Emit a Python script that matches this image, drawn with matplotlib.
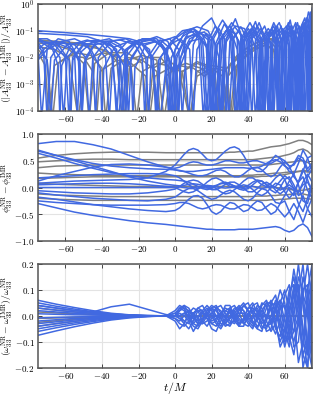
import numpy as np
import matplotlib
matplotlib.use("Agg")
import matplotlib.pyplot as plt
from matplotlib.ticker import FuncFormatter, FixedLocator, NullLocator

plt.rcParams['font.family'] = 'serif'
plt.rcParams['font.serif'] = ['cmr10']
plt.rcParams['mathtext.fontset'] = 'cm'
plt.rcParams['axes.formatter.use_mathtext'] = True

BLUE = '#4169e1'
GRAY = '#808080'
DIP = 5e-5

# ---------------- amplitude panel (t, relative error) ----------------
amp_blue = [
    [(-75,0.1),(-60,0.085),(-45,0.07),(-35,0.06),(-25,0.05),(-20,0.04),(-14,0.02),(-8,DIP),(-4,0.02),(0,0.05),(6,0.1),(12,0.14),(18,0.1),(22,0.03),(25,DIP),(28,0.05),(33,0.15),(38,0.12),(42,0.03),(44,DIP),(47,0.05),(51,0.12),(55,0.05),(57,DIP),(60,0.06),(63,0.15),(66,0.05),(67.5,DIP),(70,0.1),(72,0.3),(74,0.1),(75,DIP)],
    [(-75,0.08),(-60,0.07),(-48,0.06),(-40,0.04),(-35,0.02),(-31,DIP),(-27,0.02),(-20,0.045),(-12,0.05),(-6,0.02),(-3,DIP),(0,0.02),(5,0.08),(10,0.12),(15,0.07),(18,0.02),(20,DIP),(23,0.03),(28,0.1),(33,0.08),(36,0.02),(38,DIP),(41,0.05),(45,0.15),(49,0.05),(51,DIP),(54,0.1),(57,0.2),(60,0.06),(61.5,DIP),(64,0.1),(66,0.2),(68,0.05),(69,DIP),(71,0.1),(73,0.5),(75,0.2)],
    [(-75,0.015),(-73,DIP),(-70,0.02),(-64,0.05),(-58,0.04),(-53,0.01),(-51,DIP),(-49,0.01),(-43,0.04),(-36,0.05),(-30,0.03),(-27,0.01),(-25.5,DIP),(-24,0.01),(-18,0.04),(-10,0.06),(-4,0.04),(0,0.01),(1.5,DIP),(3,0.01),(8,0.05),(14,0.08),(19,0.04),(22,DIP),(25,0.05),(31,0.2),(36,0.07),(39,DIP),(42,0.05),(47,0.12),(51,0.03),(52.5,DIP),(55,0.05),(59,0.12),(62,0.03),(63,DIP),(65,0.05),(68,0.15),(70,0.03),(71,DIP),(73,0.2),(75,0.3)],
    [(-75,0.05),(-68,0.03),(-63,0.01),(-61,DIP),(-59,0.01),(-52,0.035),(-44,0.03),(-38,0.01),(-36,DIP),(-34,0.01),(-26,0.04),(-18,0.035),(-12,0.01),(-10,DIP),(-8,0.01),(-2,0.04),(4,0.1),(10,0.12),(14,0.05),(17,DIP),(20,0.05),(26,0.25),(30,0.1),(33,DIP),(36,0.05),(41,0.2),(45,0.06),(47,DIP),(50,0.06),(54,0.15),(57,0.03),(58,DIP),(60,0.05),(63,0.25),(65,0.05),(66,DIP),(68,0.1),(71,0.3),(73,0.05),(74,DIP),(75,0.2)],
    [(-75,0.045),(-67,0.02),(-64,0.005),(-63,DIP),(-62,0.005),(-57,0.03),(-48,0.045),(-40,0.03),(-34,0.01),(-32,DIP),(-30,0.01),(-22,0.04),(-14,0.05),(-8,0.03),(-4,0.01),(-2,DIP),(0,0.01),(6,0.06),(12,0.07),(17,0.03),(19.5,DIP),(22,0.03),(27,0.18),(31,0.06),(34,DIP),(37,0.04),(42,0.12),(46,0.04),(48,DIP),(50,0.03),(53,0.12),(56,0.03),(57.5,DIP),(59,0.05),(62,0.2),(64,0.05),(65,DIP),(67,0.05),(70,0.2),(72,0.05),(72.5,DIP),(74,0.3),(75,0.5)],
    [(-75,0.035),(-72,0.02),(-70,DIP),(-68,0.01),(-62,0.04),(-55,0.05),(-48,0.03),(-45,0.01),(-43.5,DIP),(-42,0.01),(-35,0.04),(-27,0.05),(-20,0.03),(-16,0.01),(-14.5,DIP),(-13,0.01),(-7,0.04),(0,0.06),(5,0.03),(7.5,DIP),(10,0.03),(15,0.15),(20,0.3),(24,0.08),(26,DIP),(28,0.05),(33,0.28),(37,0.05),(38.5,DIP),(40,0.05),(44,0.22),(48,0.03),(49,DIP),(51,0.05),(54,0.1),(56,0.02),(57,DIP),(59,0.1),(61,0.15),(63,0.02),(63.5,DIP),(66,0.15),(68,0.06),(69,DIP),(71,0.15),(73,0.08),(74,DIP),(75,0.6)],
    [(-75,0.02),(-71,0.035),(-66,0.03),(-60,0.01),(-58,DIP),(-56,0.01),(-49,0.04),(-42,0.045),(-35,0.03),(-30,0.01),(-28.5,DIP),(-27,0.01),(-21,0.035),(-13,0.045),(-7,0.03),(-3,0.008),(-1,DIP),(1,0.01),(7,0.08),(11,0.1),(15,0.05),(18,DIP),(21,0.05),(24,0.12),(27,0.05),(29.5,DIP),(32,0.05),(36,0.14),(40,0.04),(42,DIP),(44,0.04),(49,0.15),(52,0.04),(53.5,DIP),(55,0.04),(58,0.15),(60,0.03),(61,DIP),(63,0.06),(65,0.1),(67,0.02),(67.5,DIP),(69,0.08),(72,0.1),(73,0.02),(73.5,DIP),(75,0.7)],
    [(-75,0.008),(-70,0.02),(-63,0.035),(-55,0.03),(-49,0.01),(-47,DIP),(-45,0.01),(-38,0.04),(-30,0.045),(-22,0.03),(-18,0.01),(-16.5,DIP),(-15,0.01),(-9,0.04),(-3,0.05),(2,0.02),(4,DIP),(6,0.02),(11,0.07),(16,0.09),(20,0.04),(23,DIP),(26,0.05),(31,0.12),(35,0.04),(37,DIP),(39,0.04),(43,0.1),(47,0.03),(48.5,DIP),(50,0.04),(54,0.2),(58,0.05),(59,DIP),(61,0.05),(64,0.12),(66,0.03),(67,DIP),(69,0.05),(71,0.12),(72,0.03),(72.8,DIP),(74,0.2),(75,0.4)],
    [(-75,0.03),(-70,0.008),(-68,DIP),(-66,0.008),(-59,0.03),(-52,0.035),(-46,0.02),(-41,0.004),(-40,DIP),(-39,0.004),(-33,0.025),(-25,0.04),(-18,0.03),(-12,0.008),(-10.5,DIP),(-9,0.008),(-3,0.03),(3,0.05),(8,0.02),(10,DIP),(12,0.02),(17,0.08),(21,0.05),(24,0.01),(24.5,DIP),(27,0.03),(31,0.08),(34,0.02),(35.5,DIP),(37,0.03),(41,0.09),(44,0.02),(45.5,DIP),(47,0.03),(50,0.1),(53,0.02),(54,DIP),(56,0.04),(59,0.1),(61,0.02),(62,DIP),(64,0.04),(67,0.2),(69,0.05),(70,DIP),(72,0.1),(74,0.5),(75,0.3)],
    [(-75,0.04),(-65,0.035),(-56,0.02),(-52,0.006),(-51,DIP),(-50,0.006),(-44,0.03),(-36,0.04),(-28,0.02),(-24,0.004),(-23,DIP),(-22,0.004),(-16,0.03),(-8,0.045),(-2,0.02),(1,0.005),(2,DIP),(3,0.005),(8,0.04),(14,0.05),(18,0.02),(20.5,DIP),(23,0.03),(28,0.1),(32,0.04),(34,DIP),(36,0.04),(40,0.12),(44,0.05),(46,DIP),(48,0.05),(52,0.1),(55,0.03),(56,DIP),(57,0.03),(60,0.1),(62,0.03),(63,DIP),(64,0.04),(66,0.08),(68,0.02),(68.5,DIP),(70,0.06),(72,0.1),(73.5,0.03),(74,DIP),(75,0.2)],
    [(-75,0.01),(-72,0.02),(-66,0.04),(-60,0.035),(-55,0.015),(-53.5,DIP),(-52,0.015),(-45,0.04),(-37,0.04),(-32,0.02),(-29,DIP),(-26,0.02),(-18,0.05),(-10,0.05),(-5,0.02),(-3.5,DIP),(-2,0.01),(4,0.06),(9,0.1),(13,0.05),(15.5,DIP),(18,0.04),(22,0.15),(26,0.05),(28,DIP),(30,0.04),(35,0.1),(38,0.03),(40,DIP),(42,0.05),(46,0.2),(50,0.04),(51.5,DIP),(53,0.04),(56,0.15),(58,0.04),(59,DIP),(61,0.06),(64,0.15),(66,0.02),(66.5,DIP),(68,0.08),(70,0.15),(72,0.02),(72.5,DIP),(74,0.3),(75,0.1)],
    [(-75,0.05),(-70,0.05),(-64,0.03),(-58,0.008),(-57,DIP),(-56,0.008),(-50,0.03),(-41,0.04),(-34,0.025),(-28,0.005),(-27,DIP),(-26,0.005),(-19,0.03),(-11,0.04),(-5,0.02),(-1,0.003),(0,DIP),(1,0.003),(6,0.05),(12,0.09),(18,0.06),(21.5,DIP),(25,0.05),(30,0.15),(34,0.05),(36,DIP),(38,0.06),(43,0.15),(47,0.04),(49,DIP),(51,0.05),(55,0.12),(58,0.02),(59.5,DIP),(61,0.04),(64,0.1),(66,0.02),(66.8,DIP),(68,0.06),(71,0.2),(73,0.03),(73.7,DIP),(75,0.1)],
]

amp_gray = [
    [(-75,0.04),(-62,0.035),(-50,0.028),(-40,0.02),(-32,0.01),(-29,DIP),(-26,0.008),(-18,0.012),(-10,0.008),(-6,DIP),(-2,0.004),(6,0.006),(14,0.004),(20,0.002),(25,DIP),(30,0.005),(38,0.02),(46,0.04),(52,0.05),(56,0.03)],
    [(-75,0.035),(-66,0.03),(-58,0.02),(-50,0.006),(-47,DIP),(-44,0.006),(-36,0.015),(-26,0.015),(-18,0.006),(-15,DIP),(-12,0.004),(-4,0.008),(2,0.004),(8,DIP),(12,0.003),(20,0.005),(28,0.004),(31,DIP),(34,0.005),(42,0.02),(50,0.03),(54,0.02),(57,DIP)],
    [(-75,0.025),(-66,0.02),(-58,0.01),(-53,DIP),(-49,0.008),(-40,0.015),(-32,0.012),(-24,0.004),(-21,DIP),(-18,0.003),(-10,0.006),(-4,0.005),(0,DIP),(4,0.003),(12,0.006),(20,0.004),(25,DIP),(30,0.005),(38,0.015),(46,0.03),(52,0.04),(56,0.02),(59,DIP)],
    [(-75,0.02),(-70,0.008),(-67,DIP),(-64,0.006),(-55,0.015),(-46,0.012),(-40,0.004),(-38,DIP),(-35,0.004),(-26,0.01),(-18,0.008),(-10,0.003),(-8,DIP),(-5,0.002),(2,0.005),(10,0.004),(16,0.002),(22,0.004),(28,0.003),(30,DIP),(33,0.004),(40,0.015),(48,0.04),(54,0.05),(58,0.02)],
    [(-75,0.015),(-71,0.005),(-69,DIP),(-66,0.005),(-58,0.012),(-50,0.01),(-45,0.003),(-43,DIP),(-41,0.003),(-32,0.008),(-24,0.006),(-16,0.002),(-14,DIP),(-11,0.002),(-3,0.004),(4,0.003),(8,DIP),(12,0.002),(20,0.004),(26,0.002),(27,DIP),(29,0.002),(36,0.008),(44,0.02),(50,0.03),(55,0.015),(58,DIP)],
    [(-75,0.045),(-64,0.04),(-54,0.035),(-44,0.025),(-36,0.015),(-30,0.005),(-27.5,DIP),(-25,0.004),(-16,0.01),(-8,0.01),(-1,0.003),(1,DIP),(4,0.003),(12,0.007),(18,0.005),(22,0.002),(24,DIP),(27,0.003),(34,0.012),(42,0.03),(48,0.045),(53,0.05),(57,0.04)],
]

# ---------------- phase and frequency panels (common time samples) ----------------
t_grid = [-75, -65, -55, -45, -35, -25, -15, -5,
          0, 2.5, 5, 7.5, 10, 12.5, 15, 17.5, 20, 22.5, 25, 27.5, 30, 32.5, 35, 37.5,
          40, 42.5, 45, 47.5, 50, 52.5, 55, 57.5, 60, 62.5, 65, 67.5, 70, 72.5, 75]

phase_blue = [
    [0.82,0.86,0.86,0.8,0.72,0.6,0.48,0.38, 0.33,0.31,0.3,0.3,0.3,0.31,0.32,0.33,0.34,0.35,0.36,0.37,0.37,0.37,0.37,0.37, 0.36,0.36,0.37,0.4,0.45,0.5,0.52,0.48,0.4,0.35,0.45,0.6,0.55,0.35,0.45],
    [0.08,0.1,0.12,0.13,0.14,0.15,0.18,0.3, 0.42,0.52,0.62,0.7,0.73,0.7,0.62,0.53,0.5,0.52,0.6,0.68,0.74,0.76,0.72,0.6, 0.45,0.35,0.3,0.3,0.38,0.5,0.6,0.55,0.42,0.3,0.25,0.45,0.7,0.55,0.3],
    [0.68,0.6,0.52,0.45,0.4,0.37,0.35,0.34, 0.33,0.32,0.3,0.27,0.24,0.22,0.22,0.24,0.28,0.32,0.33,0.3,0.24,0.2,0.2,0.25, 0.32,0.37,0.38,0.33,0.25,0.2,0.25,0.38,0.48,0.4,0.2,0.1,0.3,0.55,0.6],
    [0.64,0.55,0.45,0.36,0.28,0.22,0.18,0.15, 0.14,0.13,0.12,0.1,0.06,0.02,-0.02,-0.04,-0.02,0.03,0.08,0.1,0.07,0.02,-0.03,-0.05, -0.02,0.05,0.12,0.12,0.05,-0.05,-0.1,0.0,0.15,0.2,0.05,-0.15,-0.1,0.2,0.35],
    [0.12,0.22,0.3,0.38,0.43,0.44,0.42,0.38, 0.36,0.38,0.42,0.46,0.48,0.47,0.44,0.42,0.42,0.44,0.47,0.5,0.5,0.48,0.46,0.46, 0.48,0.5,0.5,0.47,0.44,0.45,0.5,0.55,0.5,0.4,0.42,0.55,0.5,0.3,0.4],
    [0.05,0.06,0.07,0.08,0.08,0.07,0.05,0.02, 0.0,-0.04,-0.08,-0.1,-0.08,-0.03,0.02,0.04,0.03,-0.02,-0.08,-0.12,-0.1,-0.04,0.02,0.05, 0.03,-0.04,-0.12,-0.15,-0.1,0.0,0.08,0.05,-0.08,-0.2,-0.1,0.1,0.2,-0.05,-0.2],
    [0.0,0.0,0.0,0.0,0.0,0.0,0.0,0.0, 0.0,0.01,0.0,-0.01,0.0,0.01,0.0,-0.01,0.0,0.01,0.0,-0.01,0.0,0.01,0.0,-0.02, 0.0,0.02,0.0,-0.02,0.0,0.03,0.0,-0.05,0.0,0.05,-0.02,-0.08,0.05,0.1,-0.05],
    [-0.1,-0.14,-0.17,-0.2,-0.22,-0.24,-0.25,-0.22, -0.18,-0.12,-0.06,-0.02,-0.02,-0.06,-0.12,-0.18,-0.22,-0.2,-0.14,-0.08,-0.05,-0.08,-0.15,-0.22, -0.25,-0.2,-0.1,-0.02,-0.05,-0.15,-0.28,-0.3,-0.15,0.0,-0.05,-0.3,-0.45,-0.2,0.1],
    [-0.18,-0.22,-0.27,-0.32,-0.36,-0.4,-0.43,-0.45, -0.43,-0.38,-0.3,-0.22,-0.16,-0.15,-0.2,-0.32,-0.45,-0.5,-0.45,-0.35,-0.28,-0.3,-0.38,-0.45, -0.42,-0.32,-0.25,-0.28,-0.4,-0.5,-0.45,-0.3,-0.25,-0.45,-0.6,-0.35,-0.15,-0.4,-0.55],
    [-0.3,-0.38,-0.46,-0.52,-0.57,-0.62,-0.66,-0.69, -0.71,-0.72,-0.73,-0.74,-0.75,-0.76,-0.77,-0.78,-0.78,-0.79,-0.79,-0.79,-0.79,-0.79,-0.78,-0.78, -0.78,-0.78,-0.77,-0.76,-0.75,-0.74,-0.73,-0.75,-0.8,-0.83,-0.8,-0.72,-0.68,-0.75,-0.92],
    [-0.25,-0.28,-0.3,-0.32,-0.33,-0.33,-0.33,-0.32, -0.3,-0.28,-0.28,-0.3,-0.34,-0.38,-0.4,-0.38,-0.34,-0.32,-0.33,-0.37,-0.4,-0.4,-0.36,-0.32, -0.33,-0.38,-0.43,-0.42,-0.36,-0.3,-0.35,-0.45,-0.55,-0.45,-0.3,-0.45,-0.65,-0.4,-0.2],
    [0.18,0.2,0.22,0.24,0.25,0.26,0.26,0.25, 0.22,0.18,0.12,0.05,0.0,-0.02,0.02,0.1,0.16,0.18,0.14,0.08,0.02,0.0,0.04,0.12, 0.18,0.18,0.12,0.05,0.02,0.08,0.18,0.25,0.15,-0.05,-0.15,0.1,0.35,0.15,-0.1],
    [-0.06,-0.08,-0.1,-0.11,-0.12,-0.12,-0.1,-0.06, -0.03,0.02,0.08,0.12,0.14,0.12,0.06,0.0,-0.04,-0.04,0.0,0.06,0.1,0.1,0.05,-0.02, -0.08,-0.08,-0.02,0.06,0.1,0.05,-0.05,-0.12,-0.05,0.12,0.25,0.05,-0.25,-0.3,0.05],
    [0.7,0.6,0.5,0.4,0.3,0.2,0.12,0.06, 0.04,0.03,0.04,0.06,0.07,0.06,0.04,0.02,0.02,0.04,0.07,0.08,0.06,0.03,0.0,0.0, 0.04,0.1,0.14,0.12,0.06,0.0,0.02,0.12,0.22,0.15,-0.02,-0.1,0.1,0.25,0.1],
]

phase_gray = [
    [0.55,0.6,0.63,0.65,0.66,0.66,0.66,0.65, 0.65,0.65,0.65,0.65,0.65,0.65,0.65,0.65,0.65,0.65,0.65,0.65,0.66,0.66,0.67,0.67, 0.68,0.68,0.7,0.72,0.74,0.76,0.77,0.78,0.8,0.82,0.85,0.88,0.88,0.85,0.8],
    [0.48,0.5,0.52,0.53,0.53,0.52,0.52,0.52, 0.52,0.52,0.52,0.52,0.52,0.52,0.52,0.52,0.52,0.52,0.52,0.52,0.52,0.52,0.52,0.52, 0.52,0.52,0.53,0.54,0.55,0.56,0.57,0.58,0.6,0.62,0.65,0.7,0.72,0.68,0.6],
    [0.37,0.4,0.41,0.42,0.42,0.42,0.42,0.42, 0.42,0.42,0.42,0.42,0.42,0.42,0.42,0.42,0.42,0.42,0.42,0.42,0.42,0.42,0.42,0.42, 0.42,0.42,0.42,0.42,0.42,0.43,0.44,0.45,0.46,0.47,0.48,0.5,0.5,0.47,0.42],
    [0.27,0.25,0.24,0.23,0.22,0.22,0.22,0.22, 0.22,0.22,0.22,0.22,0.22,0.22,0.22,0.22,0.22,0.22,0.22,0.22,0.22,0.22,0.22,0.22, 0.23,0.23,0.24,0.24,0.25,0.26,0.27,0.27,0.28,0.29,0.3,0.3,0.3,0.29,0.28],
    [0.17,0.18,0.19,0.2,0.2,0.2,0.2,0.2, 0.2,0.2,0.2,0.2,0.2,0.2,0.2,0.2,0.2,0.2,0.2,0.2,0.2,0.2,0.2,0.2, 0.2,0.2,0.2,0.21,0.21,0.22,0.22,0.23,0.24,0.26,0.28,0.3,0.32,0.31,0.3],
    [0.08,0.06,0.05,0.04,0.03,0.02,0.02,0.02, 0.02,0.02,0.02,0.02,0.02,0.02,0.02,0.02,0.02,0.02,0.02,0.02,0.02,0.02,0.02,0.02, 0.02,0.02,0.01,0.01,0.01,0.0,0.0,-0.01,-0.02,-0.03,-0.05,-0.05,-0.05,-0.04,-0.03],
    [-0.12,-0.14,-0.15,-0.16,-0.17,-0.17,-0.17,-0.17, -0.17,-0.17,-0.17,-0.17,-0.17,-0.17,-0.17,-0.17,-0.17,-0.17,-0.17,-0.17,-0.17,-0.17,-0.17,-0.17, -0.17,-0.17,-0.16,-0.16,-0.16,-0.15,-0.15,-0.14,-0.14,-0.13,-0.12,-0.12,-0.12,-0.14,-0.15],
    [-0.2,-0.22,-0.23,-0.24,-0.24,-0.24,-0.24,-0.24, -0.24,-0.24,-0.24,-0.24,-0.24,-0.24,-0.24,-0.24,-0.24,-0.24,-0.24,-0.24,-0.24,-0.24,-0.24,-0.24, -0.24,-0.24,-0.24,-0.24,-0.24,-0.23,-0.23,-0.22,-0.22,-0.21,-0.2,-0.2,-0.2,-0.21,-0.22],
]

freq_blue = [
    [0.06,0.045,0.032,0.02,0.01,0.004,0.001,0.0, 0.0,-0.01,-0.02,-0.01,0.01,0.02,0.01,-0.01,-0.02,-0.01,0.01,0.02,0.01,-0.01,-0.03,-0.02, 0.01,0.03,0.02,-0.01,-0.04,-0.03,0.02,0.06,0.03,-0.05,-0.1,-0.02,0.1,0.12,-0.05],
    [0.04,0.03,0.02,0.015,0.035,0.045,0.025,0.005, 0.0,0.02,0.04,0.03,0.0,-0.03,-0.02,0.01,0.03,0.02,-0.01,-0.03,-0.01,0.02,0.04,0.02, -0.02,-0.04,-0.01,0.04,0.06,0.02,-0.05,-0.08,0.0,0.1,0.12,0.0,-0.15,-0.1,0.15],
    [0.05,0.037,0.026,0.016,0.008,0.003,0.001,0.0, -0.01,-0.03,-0.04,-0.02,0.01,0.03,0.02,-0.01,-0.03,-0.02,0.01,0.03,0.02,-0.02,-0.04,-0.01, 0.03,0.05,0.01,-0.04,-0.05,0.0,0.06,0.04,-0.06,-0.12,0.0,0.15,0.1,-0.12,-0.2],
    [0.04,0.03,0.021,0.013,0.007,0.003,0.001,0.0, 0.01,0.03,0.02,-0.01,-0.03,-0.01,0.02,0.04,0.02,-0.02,-0.04,-0.01,0.03,0.04,0.01,-0.03, -0.04,0.0,0.04,0.03,-0.02,-0.06,-0.03,0.05,0.1,0.02,-0.12,-0.1,0.08,0.2,0.05],
    [0.03,0.022,0.015,0.01,0.005,0.002,0.0,0.0, 0.0,0.0,0.01,0.0,-0.01,0.0,0.01,0.0,-0.01,0.0,0.01,0.0,-0.01,0.0,0.01,0.01, -0.01,-0.01,0.01,0.02,0.0,-0.02,-0.01,0.03,0.04,-0.02,-0.06,0.0,0.08,0.03,-0.1],
    [0.02,0.015,0.01,0.006,0.003,0.001,0.0,0.0, 0.02,0.04,0.03,-0.01,-0.04,-0.05,-0.02,0.02,0.04,0.03,-0.01,-0.04,-0.03,0.01,0.03,0.02, -0.01,-0.03,-0.02,0.02,0.05,0.03,-0.04,-0.1,-0.05,0.08,0.15,0.05,-0.15,-0.2,0.05],
    [0.008,0.006,0.004,0.003,0.002,0.001,0.0,0.0, -0.02,-0.05,-0.03,0.01,0.03,0.02,-0.02,-0.04,-0.01,0.03,0.04,0.01,-0.02,-0.03,0.0,0.04, 0.05,0.01,-0.05,-0.06,0.0,0.05,0.08,0.0,-0.1,-0.08,0.05,0.2,0.05,-0.15,0.1],
    [-0.008,-0.006,-0.004,-0.003,-0.002,-0.001,0.0,0.0, 0.01,0.0,-0.02,-0.03,0.0,0.03,0.04,0.01,-0.03,-0.04,0.0,0.04,0.04,0.0,-0.04,-0.04, 0.0,0.04,0.05,0.0,-0.06,-0.05,0.03,0.1,0.05,-0.08,-0.15,-0.02,0.15,0.08,-0.15],
    [-0.02,-0.015,-0.01,-0.007,-0.004,-0.002,-0.001,0.0, 0.0,0.03,0.04,0.01,-0.03,-0.04,-0.01,0.02,0.03,0.0,-0.03,-0.03,0.0,0.03,0.03,0.0, -0.03,-0.05,0.0,0.05,0.04,-0.03,-0.07,-0.02,0.08,0.12,0.0,-0.18,-0.1,0.1,0.2],
    [-0.03,-0.023,-0.016,-0.01,-0.006,-0.003,-0.001,0.0, -0.01,-0.02,0.0,0.02,0.01,-0.01,-0.03,-0.02,0.01,0.03,0.02,-0.01,-0.03,-0.02,0.02,0.04, 0.02,-0.02,-0.04,-0.02,0.03,0.06,0.02,-0.06,-0.1,0.0,0.12,0.1,-0.08,-0.2,0.0],
    [-0.04,-0.03,-0.021,-0.014,-0.008,-0.004,-0.001,0.0, 0.0,0.01,0.0,-0.02,-0.06,-0.03,0.01,0.03,0.0,-0.03,-0.05,-0.02,0.02,0.02,-0.01,-0.03, -0.01,0.02,0.03,-0.01,-0.04,-0.02,0.04,0.06,-0.02,-0.1,-0.06,0.08,0.2,0.0,-0.2],
    [-0.05,-0.038,-0.027,-0.018,-0.01,-0.005,-0.002,0.0, 0.0,-0.01,-0.03,-0.05,-0.02,0.02,0.02,-0.01,-0.05,-0.06,-0.02,0.02,0.03,0.0,-0.03,-0.01, 0.03,0.03,-0.02,-0.05,-0.02,0.04,0.05,-0.03,-0.12,-0.05,0.1,0.12,-0.05,-0.15,0.12],
    [-0.06,-0.046,-0.033,-0.022,-0.013,-0.006,-0.002,0.0, 0.0,0.0,0.01,0.02,0.0,-0.02,-0.01,0.0,0.01,0.0,-0.01,0.0,0.02,0.01,-0.02,-0.02, 0.01,0.02,0.0,-0.03,-0.01,0.03,0.03,-0.04,-0.06,0.03,0.08,-0.03,-0.12,0.05,0.15],
    [-0.075,-0.058,-0.042,-0.028,-0.016,-0.008,-0.003,0.0, 0.0,0.02,0.03,0.02,-0.01,-0.03,-0.03,0.0,0.03,0.04,0.01,-0.03,-0.04,-0.01,0.03,0.05, 0.02,-0.03,-0.05,0.0,0.05,0.05,-0.02,-0.12,-0.08,0.05,0.18,0.08,-0.2,-0.12,0.18],
]

freq_gray = [
    [0.03,0.022,0.015,0.009,0.005,0.002,0.0,0.0, 0.0,0.0,0.0,0.0,0.0,0.0,0.0,0.0,0.0,0.0,0.0,0.0,0.0,0.0,0.0,0.0, 0.0,0.0,0.0,0.0,0.0,0.0,0.0,0.0,0.0,0.0,0.0,0.0,0.0,0.0,0.0],
    [0.015,0.011,0.008,0.005,0.003,0.001,0.0,0.0, 0.0,0.0,0.0,0.0,0.0,0.0,0.0,0.0,0.0,0.0,0.0,0.0,0.0,0.0,0.0,0.0, 0.0,0.0,0.0,0.0,0.0,0.0,0.0,0.0,0.0,0.0,0.0,0.0,0.0,0.0,0.0],
    [-0.01,-0.008,-0.006,-0.004,-0.002,-0.001,0.0,0.0, 0.0,0.0,0.0,0.0,0.0,0.0,0.0,0.0,0.0,0.0,0.0,0.0,0.0,0.0,0.0,0.0, 0.0,0.0,0.0,0.0,0.0,0.0,0.0,0.0,0.0,0.0,0.0,0.0,0.0,0.0,0.0],
    [-0.025,-0.019,-0.013,-0.008,-0.005,-0.002,0.0,0.0, 0.0,0.0,0.0,0.0,0.0,0.0,0.0,0.0,0.0,0.0,0.0,0.0,0.0,0.0,0.0,0.0, 0.0,0.0,0.0,0.0,0.0,0.0,0.0,0.0,0.0,0.0,0.0,0.0,0.0,0.0,0.0],
    [-0.04,-0.03,-0.021,-0.013,-0.007,-0.003,-0.001,0.0, 0.0,0.0,0.0,0.0,0.0,0.0,0.0,0.0,0.0,0.0,0.0,0.0,0.0,0.0,0.0,0.0, 0.0,0.0,0.0,0.0,0.0,0.0,0.0,0.0,0.0,0.0,0.0,0.0,0.0,0.0,0.0],
]

x_ticks = [-60, -40, -20, 0, 20, 40, 60]
amp_ticks = [1e-4, 1e-3, 1e-2, 1e-1, 1e0]
phase_ticks = [-1.0, -0.5, 0.0, 0.5, 1.0]
freq_ticks = [-0.2, -0.1, 0.0, 0.1, 0.2]

# ---------------- figure ----------------
fig = plt.figure(figsize=(3.14, 3.96), dpi=100)
L, W = 0.121, 0.873
ax1 = fig.add_axes([L, 0.7197, W, 0.2703])
ax2 = fig.add_axes([L, 0.3914, W, 0.2702])
ax3 = fig.add_axes([L, 0.0715, W, 0.2618])

LW = 1.1
for c in amp_gray:
    t, y = zip(*c)
    ax1.plot(t, y, color=GRAY, lw=LW)
for c in amp_blue:
    t, y = zip(*c)
    ax1.plot(t, y, color=BLUE, lw=LW)
for c in phase_gray:
    ax2.plot(t_grid, c, color=GRAY, lw=LW)
for c in phase_blue:
    ax2.plot(t_grid, c, color=BLUE, lw=LW)
for c in freq_gray:
    ax3.plot(t_grid, c, color=GRAY, lw=LW)
for c in freq_blue:
    ax3.plot(t_grid, c, color=BLUE, lw=LW)

ax1.set_yscale('log')
ax1.set_ylim(1e-4, 1)
ax2.set_ylim(-1, 1)
ax3.set_ylim(-0.2, 0.2)

xfmt = FuncFormatter(lambda v, p: r'$%d$' % int(round(v)))
for ax in (ax1, ax2, ax3):
    ax.set_xlim(-75, 75)
    ax.xaxis.set_major_locator(FixedLocator(x_ticks))
    ax.xaxis.set_major_formatter(xfmt)
    ax.xaxis.set_minor_locator(NullLocator())
    ax.yaxis.set_minor_locator(NullLocator())
    ax.grid(True, color='#e3e3e3', lw=0.8)
    ax.set_axisbelow(True)
    ax.tick_params(direction='in', top=True, right=True, length=3, width=0.7,
                   color='#444444', labelsize=6.5, pad=2.5)
    for s in ax.spines.values():
        s.set_color('#555555')
        s.set_linewidth(1.1)

ax1.yaxis.set_major_locator(FixedLocator(amp_ticks))
ax1.yaxis.set_major_formatter(FuncFormatter(lambda v, p: r'$10^{%d}$' % int(round(np.log10(v)))))
ax2.yaxis.set_major_locator(FixedLocator(phase_ticks))
ax2.yaxis.set_major_formatter(FuncFormatter(lambda v, p: r'$%.1f$' % v))
ax3.yaxis.set_major_locator(FixedLocator(freq_ticks))
ax3.yaxis.set_major_formatter(FuncFormatter(lambda v, p: r'$%.1f$' % v))

ax1.set_ylabel(r'$(|A_{33}^{\rm NR}-A_{33}^{\rm IMR}|)/A_{33}^{\rm NR}$', fontsize=7)
ax2.set_ylabel(r'$\phi_{33}^{\rm NR}-\phi_{33}^{\rm IMR}$', fontsize=7)
ax3.set_ylabel(r'$(\omega_{33}^{\rm NR}-\omega_{33}^{\rm IMR})/\omega_{33}^{\rm NR}$', fontsize=7)
for ax in (ax1, ax2, ax3):
    ax.yaxis.set_label_coords(-0.082, 0.5)
ax3.set_xlabel(r'$t/M$', fontsize=8.5)
ax3.xaxis.set_label_coords(0.5, -0.12)

fig.savefig('out.png', dpi=100)
